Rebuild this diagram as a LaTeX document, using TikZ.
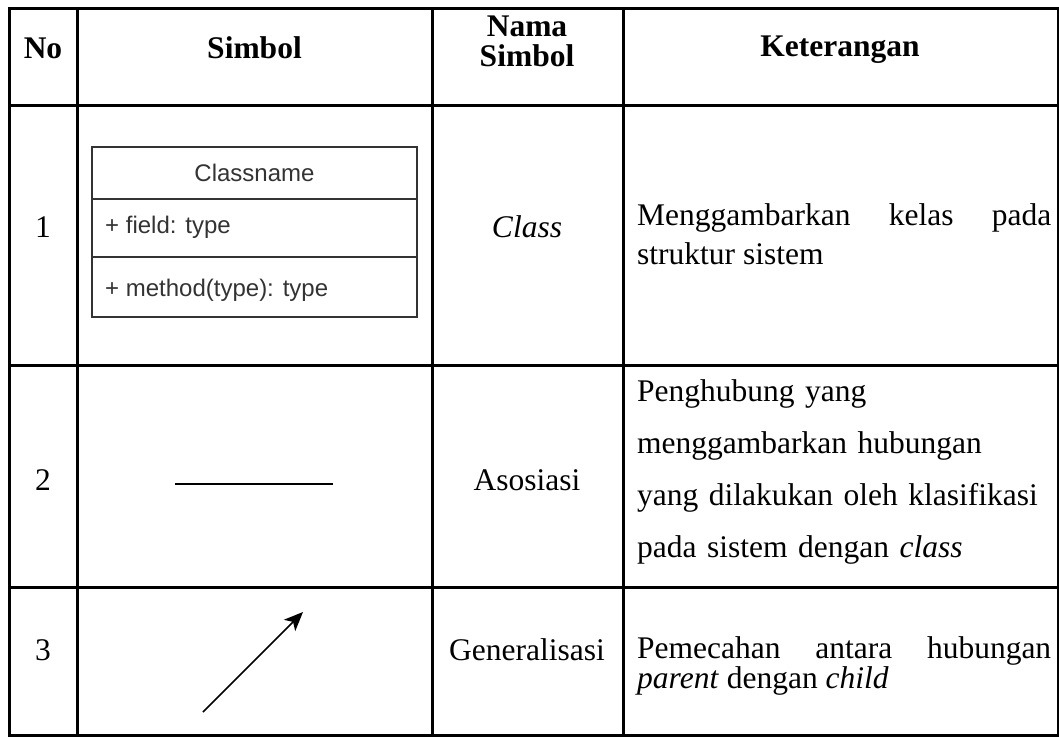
\documentclass[tikz,border=0pt]{standalone}
\usepackage{fontspec}
\setmainfont{Liberation Serif}
\newfontfamily\umlfont{Liberation Sans}
\usetikzlibrary{arrows.meta,positioning}
\hyphenpenalty=10000
\exhyphenpenalty=10000

\begin{document}
\begin{tikzpicture}[
        x=1pt, y=-1pt,
        every node/.style={inner sep=0pt, font=\fontsize{31.5}{36}\selectfont},
        grid/.style={line width=3pt},
        head/.style={font=\fontsize{31.5}{30}\selectfont\bfseries, align=center, anchor=base},
        cell/.style={anchor=base},
        ket/.style={anchor=base west, text width=414pt, align=justify},
        umlbox/.style={draw=black!80, line width=1.5pt},
        umltext/.style={font=\umlfont\fontsize{24}{24}\selectfont, text=black!80, anchor=base west}
    ]
  \useasboundingbox (0,0) rectangle (1059,736);

  % Table lines
  \draw[grid] (9,8) rectangle (1058,735);
  \draw[grid] (9,105) -- (1058,105);
  \draw[grid] (9,365) -- (1058,365);
  \draw[grid] (9,587) -- (1058,587);
  \draw[grid] (77,8) -- (77,735);
  \draw[grid] (432,8) -- (432,735);
  \draw[grid] (623,8) -- (623,735);

  % Header
  \node[head] (hno) at (43,58) {No};
  \node[head] (hsym) at (254.5,58) {Simbol};
  \node[head] (hname) at (527,66) {Nama\\Simbol};
  \node[head] (hket) at (840,56) {Keterangan};

  % Row 1: class
  \node[cell] (no1) at (43,237) {1};
  \draw[umlbox] (92,147) rectangle (417,317);
  \draw[umlbox] (92,199) -- (417,199);
  \draw[umlbox] (92,257) -- (417,257);
  \node[umltext, anchor=base] (cname) at (254.5,181) {Classname};
  \node[umltext] (cfield) at (105,233) {+ field: type};
  \node[umltext] (cmethod) at (105,296) {+ method(type): type};
  \node[cell] (name1) at (527,237) {\itshape Class};
  \node[ket, font=\fontsize{31.5}{39}\selectfont] (ket1) at (637,225)
    {Menggambarkan kelas pada struktur sistem};

  % Row 2: asosiasi
  \node[cell] (no2) at (43,490) {2};
  \coordinate (asoA) at (175,484);
  \coordinate (asoB) at (333,484);
  \draw[line width=2pt] (asoA) -- (asoB);
  \node[cell] (name2) at (527,490) {Asosiasi};
  \node[ket, align=left, font=\fontsize{31.5}{52}\selectfont] (ket2) at (637,401)
    {Penghubung yang\\menggambarkan hubungan\\yang dilakukan oleh klasifikasi\\pada sistem dengan \textit{class}};

  % Row 3: generalisasi
  \node[cell] (no3) at (43,660) {3};
  \coordinate (genA) at (203,712);
  \coordinate (genB) at (303,612);
  \draw[line width=1.5pt, -{Stealth[length=19pt, width=16pt, inset=5pt]}] (genA) -- (genB);
  \node[cell] (name3) at (527,660) {Generalisasi};
  \node[ket, font=\fontsize{31.5}{30}\selectfont] (ket3) at (637,658)
    {Pemecahan antara hubungan \textit{parent} dengan \textit{child}};
\end{tikzpicture}
\end{document}
